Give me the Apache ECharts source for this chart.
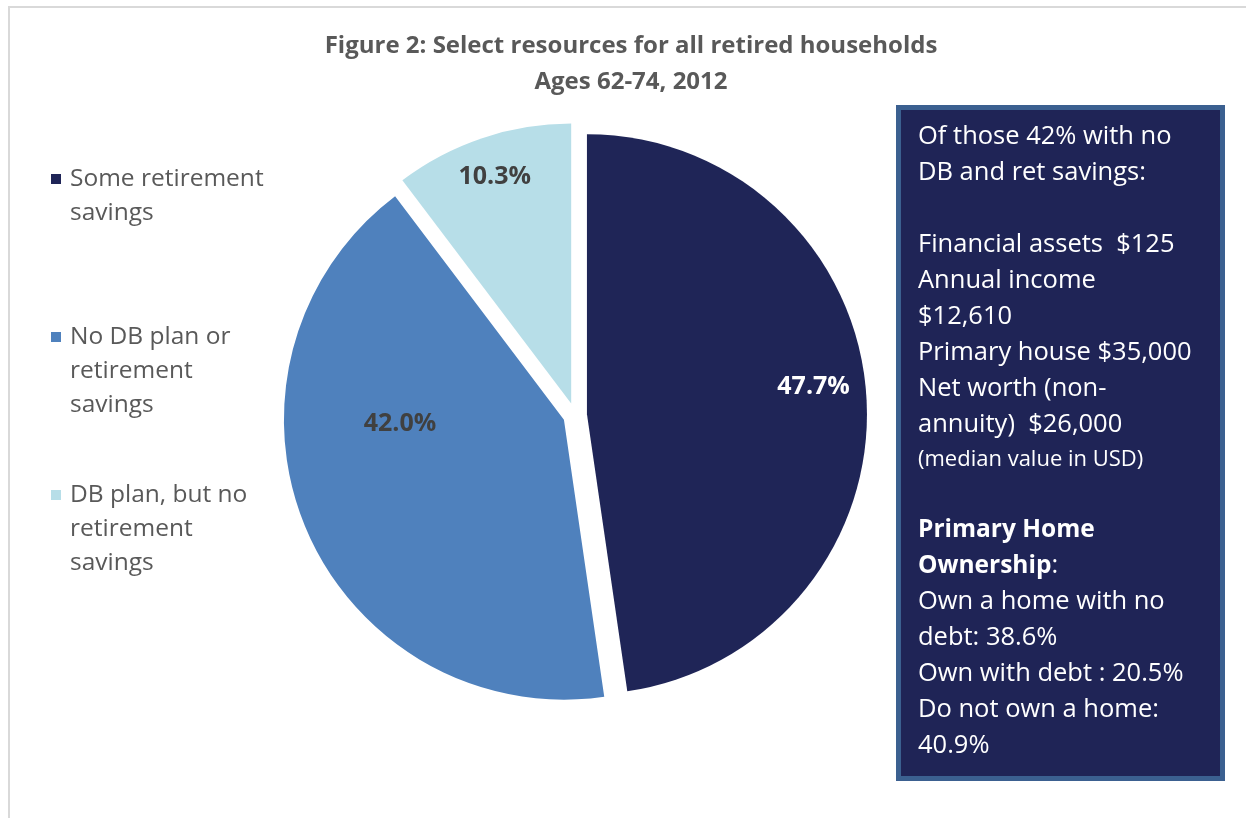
<!DOCTYPE html>
<html>
<head>
<meta charset="utf-8">
<script src="https://cdn.jsdelivr.net/npm/echarts@6/dist/echarts.min.js"></script>
<style>
  html, body { margin: 0; padding: 0; background: #ffffff; }
  #chart { width: 1246px; height: 818px; }
</style>
</head>
<body>
<div id="chart"></div>
<script>
// Share of retired households aged 62-74 (2012) by type of resource
const categories = ['Some retirement savings', 'No DB plan or retirement savings', 'DB plan, but no retirement savings'];
const shares = [47.7, 42.0, 10.3];

// Wrapped legend text, one entry per category
const legendLines = [
  ['Some retirement', 'savings'],
  ['No DB plan or', 'retirement', 'savings'],
  ['DB plan, but no', 'retirement', 'savings']
];

// Notes for the households without DB plan or retirement savings
const noteLines = [
  ['n', 'Of those 42% with no'],
  ['n', 'DB and ret savings:'],
  ['n', ''],
  ['n', 'Financial assets  $125'],
  ['n', 'Annual income'],
  ['n', '$12,610'],
  ['n', 'Primary house $35,000'],
  ['n', 'Net worth (non-'],
  ['n', 'annuity)  $26,000'],
  ['s', '(median value in USD)'],
  ['n', ''],
  ['b', 'Primary Home'],
  ['b', 'Ownership', 'n', ':'],
  ['n', 'Own a home with no'],
  ['n', 'debt: 38.6%'],
  ['n', 'Own with debt : 20.5%'],
  ['n', 'Do not own a home:'],
  ['n', '40.9%']
];

const FONT = '"Open Sans"';
const sliceColors = ['#1F2557', '#4F81BD', '#B7DEE8'];
const labelColors = ['#ffffff', '#404040', '#404040'];
// nudges of the value labels away from the default inside position
const labelShift = [[84, -17], [-32, -51], [-31, -91]];

const chart = echarts.init(document.getElementById('chart'), null, { renderer: 'canvas' });

const LH = 34;
const legendTops = [128, 252, 410];
const legends = categories.map((name, i) => {
  const n = legendLines[i].length;
  // blank lines on top keep the marker level with the first text line
  const text = new Array(n - 1).fill(' ').concat(legendLines[i]).join('\n');
  return {
    data: [name],
    left: 51,
    top: legendTops[i],
    orient: 'vertical',
    padding: 0,
    icon: 'rect',
    itemWidth: 10,
    itemHeight: 10,
    selectedMode: false,
    formatter: () => text,
    textStyle: {
      fontFamily: FONT,
      fontSize: 24.5,
      lineHeight: LH,
      color: '#595959',
      padding: [0, 0, 0, 4]
    }
  };
});

const noteText = noteLines.map(l => {
  let s = '';
  for (let k = 0; k < l.length; k += 2) s += '{' + l[k] + '|' + (l[k + 1] === '' ? ' ' : l[k + 1]) + '}';
  return s;
}).join('\n');

chart.setOption({
  animation: false,
  title: {
    text: 'Figure 2: Select resources for all retired households\nAges 62-74, 2012',
    left: 631,
    top: 28,
    textAlign: 'center',
    padding: 0,
    textStyle: {
      fontFamily: FONT,
      fontSize: 24,
      fontWeight: 'bold',
      lineHeight: 36,
      color: '#595959'
    }
  },
  legend: legends,
  series: [{
    type: 'pie',
    center: [575, 415],
    radius: 280,
    startAngle: 90,
    clockwise: true,
    selectedMode: 'multiple',
    selectedOffset: 12,
    emphasis: { disabled: true },
    select: { itemStyle: { borderWidth: 0 } },
    itemStyle: { borderWidth: 0 },
    label: {
      show: true,
      position: 'inside',
      fontFamily: FONT,
      fontSize: 25,
      fontWeight: 'bold',
      formatter: p => p.value.toFixed(1) + '%'
    },
    labelLine: { show: false },
    labelLayout: p => ({ dx: labelShift[p.dataIndex][0], dy: labelShift[p.dataIndex][1] }),
    data: categories.map((name, i) => ({
      name,
      value: shares[i],
      selected: true,
      itemStyle: { color: sliceColors[i] },
      label: { color: labelColors[i] }
    }))
  }],
  graphic: [
    {
      type: 'rect',
      silent: true,
      shape: { x: 9, y: 7, width: 1400, height: 1000 },
      style: { fill: 'none', stroke: '#D9D9D9', lineWidth: 2 }
    },
    {
      type: 'rect',
      silent: true,
      shape: { x: 898.5, y: 107.5, width: 324, height: 671 },
      style: { fill: '#1F2456', stroke: '#3B6090', lineWidth: 5 }
    },
    {
      type: 'text',
      silent: true,
      left: 918,
      top: 124,
      style: {
        text: noteText,
        rich: {
          n: { fontFamily: FONT, fontSize: 25.5, lineHeight: 36, fill: '#ffffff' },
          b: { fontFamily: FONT, fontSize: 24.5, lineHeight: 36, fontWeight: 'bold', fill: '#ffffff' },
          s: { fontFamily: FONT, fontSize: 22, lineHeight: 33, fill: '#ffffff' }
        }
      }
    }
  ]
});
</script>
</body>
</html>
